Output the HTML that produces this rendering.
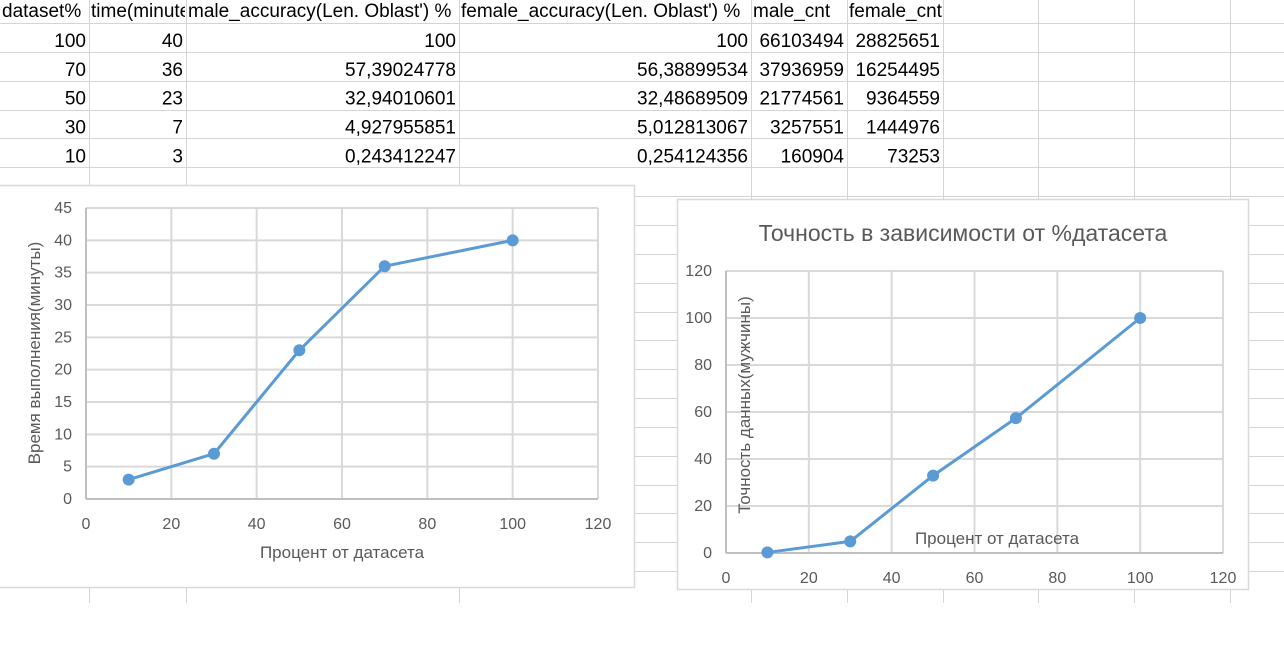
<!DOCTYPE html>
<html><head><meta charset="utf-8"><style>
body{margin:0;width:1284px;height:648px;overflow:hidden;background:#fff;font-family:"Liberation Sans","DejaVu Sans",sans-serif}
svg{position:absolute;left:0;top:0}
</style></head><body>
<svg width="1284" height="648">
<defs id="defs"></defs>
<g id="grid"></g>
<g id="cells" font-size="19" fill="#000"></g>
<g id="c1"></g>
<g id="c2"></g>
</svg>
<script>
const NS="http://www.w3.org/2000/svg";
function mk(p,t,a){const e=document.createElementNS(NS,t);for(const k in a)e.setAttribute(k,a[k]);p.appendChild(e);return e;}
// data
const datasetPct=[10,30,50,70,100];
const timeMin=[3,7,23,36,40];
const maleAcc=[0.243412247,4.927955851,32.94010601,57.39024778,100];
const xTicks=[0,20,40,60,80,100,120];
const yTicks1=[0,5,10,15,20,25,30,35,40,45];
const yTicks2=[0,20,40,60,80,100,120];
const headers=["dataset%","time(minutes)","male_accuracy(Len. Oblast') %","female_accuracy(Len. Oblast') %","male_cnt","female_cnt"];
const rows=[["100","40","100","100","66103494","28825651"],["70","36","57,39024778","56,38899534","37936959","16254495"],["50","23","32,94010601","32,48689509","21774561","9364559"],["30","7","4,927955851","5,012813067","3257551","1444976"],["10","3","0,243412247","0,254124356","160904","73253"]];
// grid
const g=document.getElementById('grid');
const colX=[89,186,459,751,847,943,1038,1134,1230];
const rowY=[];for(let y=23;y<580;y+=28.85)rowY.push(Math.round(y)+.5);
rowY.forEach(y=>{const l=mk(g,'line',{x1:0,x2:1284,y1:y,y2:y,stroke:'#d4d4d4','stroke-width':1});});
colX.forEach(x=>{const l=mk(g,'line',{x1:x+.5,x2:x+.5,y1:0,y2:603,stroke:'#d4d4d4','stroke-width':1});});
// cells
const c=document.getElementById('cells');
const defs=document.getElementById('defs');
const colL=[0,89,186,459,751,847,943];
headers.forEach((h,i)=>{
 const cp=mk(defs,'clipPath',{id:'hc'+i});mk(cp,'rect',{x:colL[i],y:0,width:colL[i+1]-colL[i]-1,height:23});
 const t=mk(c,'text',{x:colL[i]+2,y:17,'clip-path':'url(#hc'+i+')'});t.textContent=h;});
rows.forEach((r,ri)=>r.forEach((v,ci)=>{const t=mk(c,'text',{x:colL[ci+1]-3,y:47+ri*28.85,'text-anchor':'end'});t.textContent=v;}));
function chart(id,box,pl,yTicks,ys,opts){
 const p=document.getElementById(id);
 mk(p,'rect',{x:box[0]+.5,y:box[1]+.5,width:box[2],height:box[3],fill:'#fff',stroke:'#d9d9d9','stroke-width':1.5});
 const [x0,y0,x1,y1]=pl;const ymax=yTicks[yTicks.length-1];
 const sx=v=>x0+(v/120)*(x1-x0), sy=v=>y0-(v/ymax)*(y0-y1);
 yTicks.forEach(v=>{const l=mk(p,'line',{x1:x0,x2:x1,y1:sy(v),y2:sy(v),stroke:'#d9d9d9','stroke-width':2});
  const t=mk(p,'text',{x:x0-14,y:sy(v)+5,'text-anchor':'end','font-size':16,fill:'#595959'});t.textContent=v;});
 xTicks.forEach(v=>{const l=mk(p,'line',{x1:sx(v),x2:sx(v),y1:y1,y2:y0,stroke:'#d9d9d9','stroke-width':2});
  const t=mk(p,'text',{x:sx(v),y:y0+30,'text-anchor':'middle','font-size':16,fill:'#595959'});t.textContent=v;});
 mk(p,'line',{x1:x0,x2:x1,y1:y0,y2:y0,stroke:'#bfbfbf','stroke-width':2});
 mk(p,'line',{x1:x0,x2:x0,y1:y1,y2:y0,stroke:'#bfbfbf','stroke-width':2});
 const pts=datasetPct.map((d,i)=>sx(d)+','+sy(ys[i])).join(' ');
 const pl2=mk(p,'polyline',{points:pts,fill:'none',stroke:'#5b9bd5','stroke-width':3,'stroke-linejoin':'round'});
 
 datasetPct.forEach((d,i)=>{const m=mk(p,'circle',{cx:sx(d),cy:sy(ys[i]),r:6,fill:'#5b9bd5'});});
 const xt=mk(p,'text',{x:opts.xt[0],y:opts.xt[1],'text-anchor':'middle','font-size':17,fill:'#595959'});xt.textContent='Процент от датасета';
 
 const yt=mk(p,'text',{x:0,y:0,'text-anchor':'middle','font-size':17,fill:'#595959',transform:`translate(${opts.yt[0]},${opts.yt[1]}) rotate(-90)`});yt.textContent=opts.ytxt;
 
 if(opts.title){const tt=mk(p,'text',{x:opts.title[0],y:opts.title[1],'text-anchor':'middle','font-size':23,fill:'#595959'});tt.textContent=opts.title[2];
  }
}
chart('c1',[-5,185,639,402],[86,499,598,208],yTicks1,timeMin,{xt:[342,558],yt:[40,353],ytxt:'Время выполнения(минуты)'});
chart('c2',[677,199,571,390],[726,553,1223,271],yTicks2,maleAcc,{xt:[997,544],yt:[750,405],ytxt:'Точность данных(мужчины)',title:[963,241,'Точность в зависимости от %датасета']});
</script>
</body></html>
